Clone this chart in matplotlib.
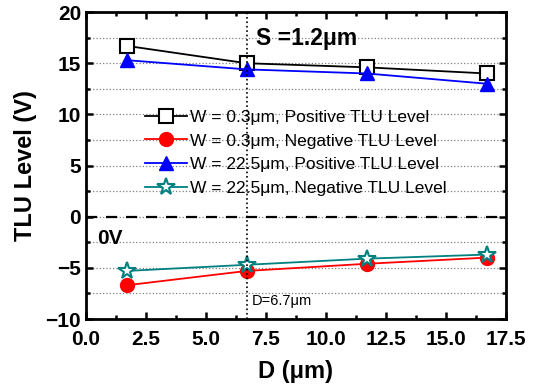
import matplotlib.pyplot as plt
from matplotlib.ticker import MultipleLocator

plt.rcParams['font.family'] = ['Liberation Sans', 'DejaVu Sans']

d = [1.7, 6.7, 11.7, 16.7]
pos_narrow = [16.7, 15.0, 14.6, 14.0]
neg_narrow = [-6.7, -5.3, -4.6, -4.0]
pos_wide = [15.3, 14.4, 14.0, 13.0]
neg_wide = [-5.3, -4.7, -4.1, -3.7]
labels = ['W = 0.3\u03bcm, Positive TLU Level',
          'W = 0.3\u03bcm, Negative TLU Level',
          'W = 22.5\u03bcm, Positive TLU Level',
          'W = 22.5\u03bcm, Negative TLU Level']

fig = plt.figure(figsize=(5.37, 3.9), dpi=100)
ax = fig.add_axes([0.160, 0.182, 0.782, 0.787])

ax.plot(d, pos_narrow, '-s', color='black', mfc='white', mec='black', ms=10, mew=1.5, lw=1.3, label=labels[0])
ax.plot(d, neg_narrow, '-o', color='red', ms=10, lw=1.3, label=labels[1])
ax.plot(d, pos_wide, '-^', color='blue', ms=10, lw=1.3, label=labels[2])
ax.plot(d, neg_wide, '-*', color='#008080', mfc='white', mec='#008080', ms=13, mew=1.5, lw=1.3, label=labels[3])

ax.axhline(0, color='black', ls=(0, (5, 4)), lw=1.6)
ax.axvline(6.7, color='black', ls=':', lw=1.2)

ax.set_xlim(0, 17.5)
ax.set_ylim(-10, 20)
ax.xaxis.set_major_locator(MultipleLocator(2.5))
ax.xaxis.set_minor_locator(MultipleLocator(1.25))
ax.yaxis.set_major_locator(MultipleLocator(5))
ax.yaxis.set_minor_locator(MultipleLocator(2.5))
ax.grid(True, which='both', axis='y', color='gray', ls=':', lw=0.9)
ax.set_axisbelow(True)

ax.tick_params(which='both', direction='in', top=True, right=True, width=1.8)
ax.tick_params(which='major', length=5, labelsize=15)
ax.tick_params(axis='x', which='major', pad=8)
ax.tick_params(which='minor', length=3)
for lbl in ax.get_xticklabels() + ax.get_yticklabels():
    lbl.set_fontweight('bold')
for sp in ax.spines.values():
    sp.set_linewidth(2)

ax.set_xlabel('D (\u03bcm)', fontsize=17, fontweight='bold', labelpad=8)
ax.set_ylabel('TLU Level (V)', fontsize=17, fontweight='bold', labelpad=6)

ax.text(7.1, 17.4, 'S =1.2\u03bcm', fontsize=16.5, fontweight='bold', va='center')
ax.text(0.45, -2.1, '0V', fontsize=15, fontweight='bold', va='center')
ax.text(6.9, -8.2, 'D=6.7\u03bcm', fontsize=10.5, va='center')

ax.legend(loc='upper center', bbox_to_anchor=(0.5, 0.705), frameon=False, fontsize=12.5,
          handlelength=2.4, handletextpad=0.2, labelspacing=0.5, borderaxespad=0)

fig.savefig('out.png', dpi=100)
